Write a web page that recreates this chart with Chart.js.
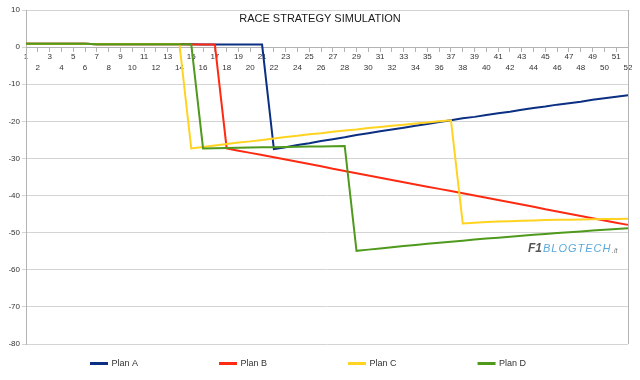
<!DOCTYPE html>
<html>
<head>
<meta charset="utf-8">
<title>Race strategy simulation</title>
<script src="https://cdn.jsdelivr.net/npm/chart.js@4.4.1/dist/chart.umd.min.js"></script>
<style>
    html, body { margin: 0; padding: 0; background: #fff; }
    #wrap { width: 640px; height: 380px; position: relative; }
</style>
</head>
<body>
<div id="wrap"><canvas id="strategyChart"></canvas></div>
<script>
// lap numbers (x axis)
const laps = [
    "1", "2", "3", "4", "5", "6", "7", "8", "9", "10", "11", "12", "13",
    "14", "15", "16", "17", "18", "19", "20", "21", "22", "23", "24", "25", "26",
    "27", "28", "29", "30", "31", "32", "33", "34", "35", "36", "37", "38", "39",
    "40", "41", "42", "43", "44", "45", "46", "47", "48", "49", "50", "51", "52"
];

const yTicks = [10, 0, -10, -20, -30, -40, -50, -60, -70, -80];

// gap in seconds per lap
const planA = [
    0.9, 0.9, 0.9, 0.9, 0.9, 0.9, 0.8, 0.8, 0.8, 0.8, 0.8, 0.8, 0.8, 0.8, 0.8,
    0.7, 0.7, 0.7, 0.7, 0.7, 0.7,
    -27.5, -27.0, -26.4, -25.9, -25.3, -24.8, -24.3, -23.7, -23.2, -22.7, -22.2,
    -21.7, -21.2, -20.7, -20.2, -19.7, -19.2, -18.8, -18.3, -17.8, -17.4, -16.9,
    -16.4, -16.0, -15.5, -15.1, -14.7, -14.2, -13.8, -13.4, -13.0
];
const planB = [
    0.9, 0.9, 0.9, 0.9, 0.9, 0.9, 0.8, 0.8, 0.8, 0.8, 0.8, 0.8, 0.8, 0.8,
    0.7, 0.7, 0.7,
    -27.3, -27.9, -28.5, -29.1, -29.7, -30.3, -30.9, -31.5, -32.1, -32.8, -33.4,
    -34.0, -34.6, -35.2, -35.8, -36.4, -37.0, -37.6, -38.2, -38.8, -39.4, -40.0,
    -40.6, -41.2, -41.8, -42.4, -43.0, -43.7, -44.3, -44.9, -45.5, -46.1, -46.7,
    -47.3, -47.9
];
const planC = [
    0.9, 0.9, 0.9, 0.9, 0.9, 0.9, 0.8, 0.8, 0.8, 0.8, 0.8, 0.8, 0.8, 0.8,
    -27.3, -26.9, -26.5, -26.1, -25.7, -25.4, -25.0, -24.6, -24.2, -23.9, -23.5,
    -23.2, -22.8, -22.5, -22.2, -21.8, -21.5, -21.2, -20.9, -20.6, -20.3, -20.0,
    -19.7,
    -47.5, -47.3, -47.1, -47.0, -46.9, -46.8, -46.7, -46.6, -46.55, -46.5,
    -46.45, -46.4, -46.35, -46.3, -46.25
];
const planD = [
    0.9, 0.9, 0.9, 0.9, 0.9, 0.9, 0.8, 0.8, 0.8, 0.8, 0.8, 0.8, 0.8, 0.8, 0.8,
    -27.3, -27.25, -27.2, -27.1, -27.05, -27.0, -26.95, -26.9, -26.85, -26.8,
    -26.75, -26.7, -26.65,
    -54.9, -54.57, -54.25, -53.93, -53.62, -53.31, -53.01, -52.72, -52.43, -52.15,
    -51.87, -51.6, -51.34, -51.08, -50.83, -50.58, -50.34, -50.11, -49.88, -49.66,
    -49.44, -49.23, -49.03, -48.83
];

const FONT = "'Liberation Sans', Arial, sans-serif";
const LEGEND_GAP = 82;

function plan(label, values, color, order) {
    return {
        label: label,
        data: values,
        borderColor: color,
        backgroundColor: color,
        borderWidth: 2,
        pointRadius: 0,
        tension: 0,
        order: order
    };
}

// title + watermark are drawn inside the plot area, like in the spreadsheet
const chartDecor = {
    id: "chartDecor",
    afterLayout(chart) {
        // labels.padding gives the wide gap between items but also pushes them down
        chart.legend.top = 359 - LEGEND_GAP;
    },
    beforeDatasetsDraw(chart) {
        const { ctx, chartArea } = chart;
        ctx.save();
        // right border of the plot
        ctx.strokeStyle = "#b3b3b3";
        ctx.lineWidth = 1;
        ctx.beginPath();
        ctx.moveTo(Math.round(chartArea.right) + 0.5, chartArea.top);
        ctx.lineTo(Math.round(chartArea.right) + 0.5, chartArea.bottom);
        ctx.stroke();

        ctx.fillStyle = "#1a1a1a";
        ctx.font = "11px " + FONT;
        ctx.textAlign = "center";
        ctx.textBaseline = "middle";
        ctx.fillText("RACE STRATEGY SIMULATION", 320, 19);

        ctx.textAlign = "left";
        ctx.font = "italic bold 12px " + FONT;
        ctx.fillStyle = "#555";
        ctx.fillText("F1", 528, 249);
        ctx.font = "italic 11px " + FONT;
        ctx.letterSpacing = "1px";
        ctx.fillStyle = "#5aa9dc";
        ctx.fillText("BLOGTECH", 543, 249);
        ctx.letterSpacing = "0px";
        ctx.font = "italic 7px " + FONT;
        ctx.fillStyle = "#777";
        ctx.fillText(".it", 612, 251);
        ctx.restore();
    }
};

new Chart(document.getElementById("strategyChart"), {
    type: "line",
    data: {
        labels: laps,
        datasets: [
            plan("Plan A", planA, "#0b2f82", 3),
            plan("Plan B", planB, "#ff2a12", 2),
            plan("Plan C", planC, "#ffd320", 1),
            plan("Plan D", planD, "#4f9a1c", 0)
        ]
    },
    options: {
        responsive: true,
        maintainAspectRatio: false,
        animation: false,
        layout: {
            padding: { top: 10, right: 12, bottom: 0, left: 9 }
        },
        plugins: {
            title: { display: false },
            tooltip: { enabled: false },
            legend: {
                display: true,
                position: "bottom",
                align: "start",
                maxHeight: 36,
                labels: {
                    boxWidth: 16,
                    boxHeight: 1,
                    padding: LEGEND_GAP,
                    color: "#333",
                    font: { family: FONT, size: 9 },
                    sort: (a, b) => a.datasetIndex - b.datasetIndex
                }
            }
        },
        scales: {
            x: {
                type: "category",
                position: { y: 0 },
                offset: false,
                grid: {
                    display: true,
                    drawOnChartArea: false,
                    drawTicks: true,
                    tickLength: 4,
                    color: "#b3b3b3"
                },
                border: { display: true, color: "#b3b3b3" },
                ticks: {
                    autoSkip: false,
                    maxRotation: 0,
                    minRotation: 0,
                    padding: 0,
                    color: "#333",
                    font: { family: FONT, size: 8, lineHeight: 1.35 },
                    // odd laps on the first row, even laps on the second
                    callback: (value, index) => index % 2 === 0 ? [laps[index]] : ["", laps[index]]
                }
            },
            y: {
                min: -80,
                max: 10,
                afterFit: (scale) => { scale.width = 17; },
                afterBuildTicks: (scale) => {
                    scale.ticks = yTicks.map((v) => ({ value: v }));
                },
                grid: {
                    color: "#d4d4d4",
                    tickLength: 4
                },
                border: { display: true, color: "#b3b3b3" },
                ticks: {
                    padding: 2,
                    color: "#333",
                    font: { family: FONT, size: 8 }
                }
            }
        }
    },
    plugins: [chartDecor]
});
</script>
</body>
</html>
